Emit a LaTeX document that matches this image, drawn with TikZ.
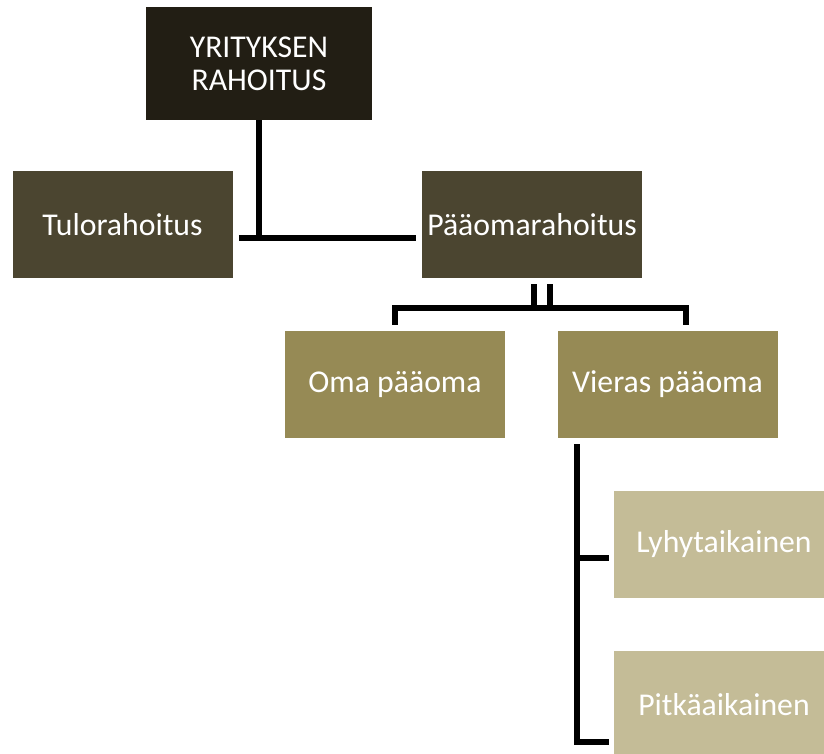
\documentclass[tikz,border=0pt]{standalone}
\usepackage{fontspec}
\setmainfont{Carlito}
\usepackage{tikz}
\usetikzlibrary{positioning,calc}
\definecolor{tummaruskea}{HTML}{221E14}
\definecolor{ruskea}{HTML}{4B4530}
\definecolor{oliivi}{HTML}{968A55}
\definecolor{hiekka}{HTML}{C4BC97}

\begin{document}
\begin{tikzpicture}[x=0.75pt, y=-0.75pt,
  laatikko/.style={rectangle, inner sep=0pt, text=white, align=center,
                   font=\fontsize{23.8}{24.75}\selectfont,
                   minimum width=165pt, minimum height=80.25pt},
  taso1/.style={laatikko, fill=tummaruskea, minimum width=169.5pt, minimum height=84.75pt},
  taso2/.style={laatikko, fill=ruskea},
  taso3/.style={laatikko, fill=oliivi},
  taso4/.style={laatikko, fill=hiekka},
  viiva/.style={-, line width=4.5pt, black}
]
  \clip (0,0) rectangle (824,753);

  \node[taso1] (yritys)  at (259,63.5)    {YRITYKSEN\\RAHOITUS};
  \node[taso2] (tulo)    at (122.5,224.5) {Tulorahoitus};
  \node[taso2] (paaoma)  at (532,224.5)   {Pääomarahoitus};
  \node[taso3] (oma)     at (395,384.5)   {Oma pääoma};
  \node[taso3] (vieras)  at (667.5,384.5) {Vieras pääoma};
  \node[taso4] (lyhyt)   at (724,544.5)   {Lyhytaikainen};
  \node[taso4] (pitka)   at (724,704.5)   {Pitkäaikainen};

  % yrityksen rahoitus
  \coordinate (t1) at ($(tulo.east)+(0,13)$);
  \draw[viiva] (yritys.south) -- (yritys.south |- t1);
  \draw[viiva] ($(tulo.east)+(6,13)$) -- ($(paaoma.west)+(-6,13)$);
  % paaomarahoitus
  \draw[viiva] ($(paaoma.south)+(2,6)$) -- ++(0,24) -| ($(oma.north)+(0,-6)$);
  \draw[viiva] ($(paaoma.south)+(18,6)$) -- ++(0,24) -| ($(vieras.north)+(18.5,-6)$);
  \draw[viiva] ($(paaoma.south)+(2,30)$) -- ($(paaoma.south)+(18,30)$);
  % vieras paaoma
  \draw[viiva] ($(vieras.south west)+(20,6)$) |- ($(pitka.west)+(-5,37.5)$);
  \draw[viiva] ($(lyhyt.west)+(-36,13.5)$) -- ($(lyhyt.west)+(-5,13.5)$);

\end{tikzpicture}
\end{document}
